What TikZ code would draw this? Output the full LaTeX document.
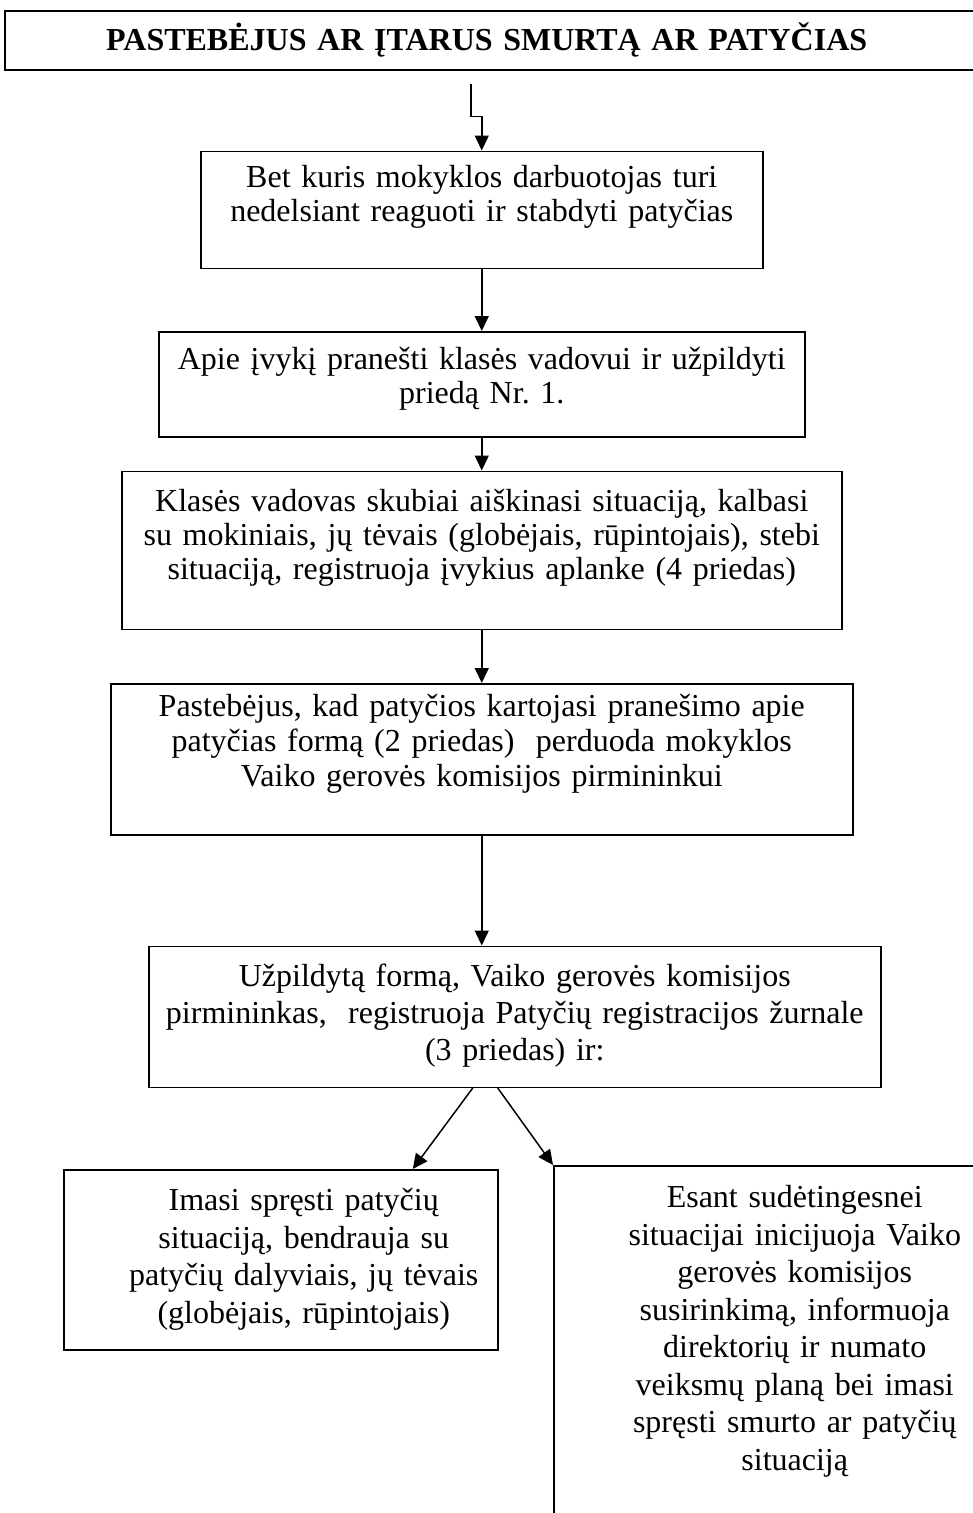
\documentclass[tikz,border=0pt]{standalone}
\usepackage{fontspec}
\setmainfont{Liberation Serif}
\usetikzlibrary{arrows.meta, positioning}
\frenchspacing

\tikzset{
  box/.style={draw, line width=1.5pt, align=center, inner xsep=0pt, inner ysep=0pt},
  upper/.style={box, font=\fontsize{32}{34}\selectfont},
  lower/.style={box, font=\fontsize{32}{37.5}\selectfont},
}

\begin{document}
\begin{tikzpicture}[x=1pt, y=-1pt, line width=1.5pt, >={Triangle[length=15pt,width=14pt]}]
  \useasboundingbox (0,0) rectangle (973,1513);

  \node[box, font=\fontsize{32}{34}\selectfont\bfseries, anchor=north west, text width=980pt, text height=40pt, text depth=19pt] (0) at (4,10) {\hspace*{-16pt}PASTEBĖJUS AR ĮTARUS SMURTĄ AR PATYČIAS};
  \node[upper, text width=562pt, text height=36pt, text depth=81pt] (1) [below=80pt of 0, xshift=-13pt] {Bet kuris mokyklos darbuotojas turi\\nedelsiant reaguoti ir stabdyti patyčias};
  \node[upper, text width=646pt, text height=38pt, text depth=67pt] (2) [below=62pt of 1] {Apie įvykį pranešti klasės vadovui ir užpildyti\\priedą Nr. 1.};
  \node[upper, text width=720pt, text height=40pt, text depth=118pt] (3) [below=33pt of 2] {Klasės vadovas skubiai aiškinasi situaciją, kalbasi\\su mokiniais, jų tėvais (globėjais, rūpintojais), stebi\\situaciją, registruoja įvykius aplanke (4 priedas)};
  \node[upper, font=\fontsize{32}{35}\selectfont, text width=742pt, text height=33pt, text depth=118pt] (4) [below=53pt of 3] {Pastebėjus, kad patyčios kartojasi pranešimo apie\\patyčias formą (2 priedas) \ perduoda mokyklos\\Vaiko gerovės komisijos pirmininkui};
  \node[lower, font=\fontsize{32}{37}\selectfont, text width=732pt, text height=40pt, text depth=101pt] (5) [below=110pt of 4, xshift=33pt] {Užpildytą formą, Vaiko gerovės komisijos\\pirmininkas, \ registruoja Patyčių registracijos žurnale\\(3 priedas) ir:};
  \node[lower, anchor=north west, text width=434pt, text height=41pt, text depth=139pt] (6) at (63,1169) {\hspace*{46pt}\parbox[t]{388pt}{\centering Imasi spręsti patyčių\\situaciją, bendrauja su\\patyčių dalyviais, jų tėvais\\(globėjais, rūpintojais)}};
  \node[lower, anchor=north west, text width=482pt, text height=42pt, text depth=393pt] (7) at (553,1165) {Esant sudėtingesnei\\situacijai inicijuoja Vaiko\\gerovės komisijos\\susirinkimą, informuoja\\direktorių ir numato\\veiksmų planą bei imasi\\spręsti smurto ar patyčių\\situaciją};

  \draw[->] ([xshift=-24pt,yshift=-13pt]0.south) -- ++(0,33) -| (1.north);
  \draw[->] (1) -- (2);
  \draw[->] (2) -- (3);
  \draw[->] (3) -- (4);
  \draw[->] (4) -- (4 |- 5.north);
  \draw[->] ([xshift=-42pt]5.south) -- ([xshift=132pt]6.north);
  \draw[->] ([xshift=-17pt]5.south) -- (7.north west);
\end{tikzpicture}
\end{document}
